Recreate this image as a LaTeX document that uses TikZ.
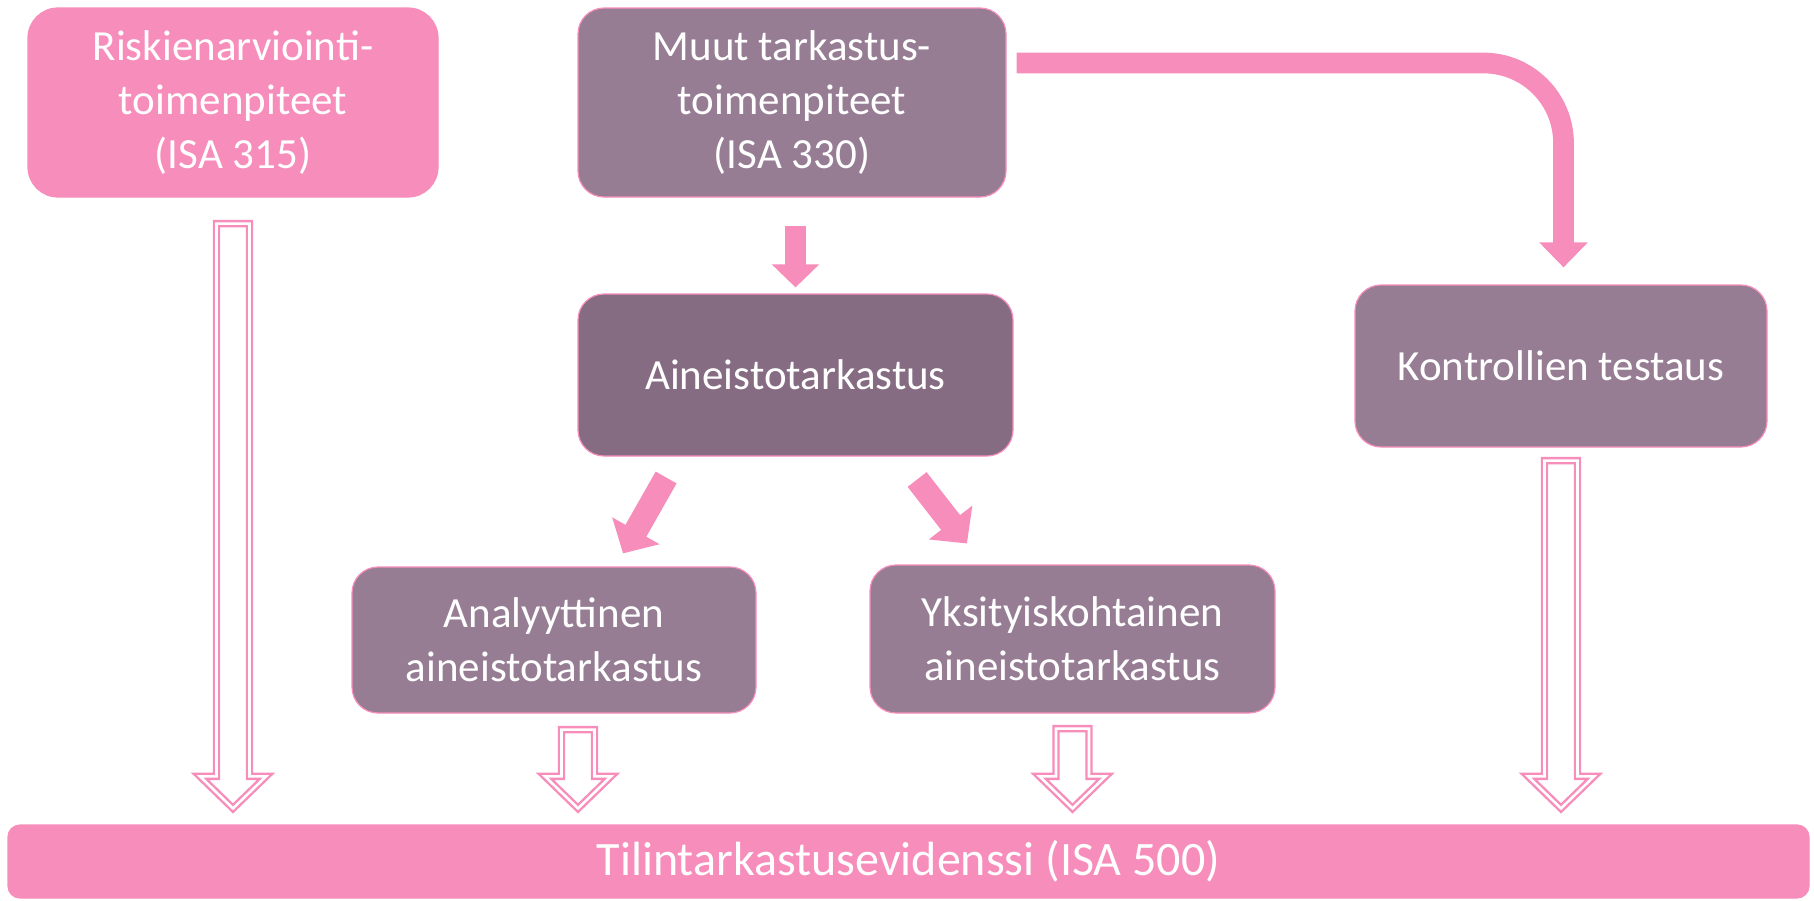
\documentclass[tikz,border=0pt]{standalone}
\usepackage{fontspec}
\setmainfont{Carlito}
\usepackage{xcolor}
\usepackage{tikz}
\usetikzlibrary{arrows.meta,calc}

\definecolor{pinkc}{RGB}{247,141,187}
\definecolor{mauve}{RGB}{150,125,148}
\definecolor{mauvedk}{RGB}{134,108,131}

\begin{document}
\begin{tikzpicture}[x=0.5pt,y=-0.5pt,
box/.style={rounded corners=13pt, draw=pinkc, line width=0.6pt, text=white,
    align=center, inner sep=0pt, font=\fontsize{21.5}{27.2}\selectfont},
pinkbox/.style={box, fill=pinkc, rounded corners=15pt},
mauvebox/.style={box, fill=mauve},
fatarrow/.style={pinkc, line width=10.35pt, -{Triangle[width=23.5pt,length=12.5pt]}},
hollowarrow/.style={draw=pinkc, line width=1.2pt, double=white,
    double distance=1.3pt, fill=white}]
\useasboundingbox (0,0) rectangle (1814,900);

% boxes
\node[pinkbox, minimum width=205pt, minimum height=94.5pt] (risk) at (233,102.5)
  {Riskienarviointi-\\toimenpiteet\\(ISA 315)};
\node[mauvebox, minimum width=214pt, minimum height=94.5pt] (muut) at (792,102.5)
  {Muut tarkastus-\\toimenpiteet\\(ISA 330)};
\node[mauvebox, fill=mauvedk, minimum width=217.5pt, minimum height=81pt] (aineisto) at (795.5,375)
  {Aineistotarkastus};
\node[mauvebox, minimum width=206pt, minimum height=81pt] (kontr) at (1561,366)
  {Kontrollien testaus};
\node[mauvebox, minimum width=202pt, minimum height=73pt] (analyyt) at (554,640)
  {Analyyttinen\\aineistotarkastus};
\node[mauvebox, minimum width=202.5pt, minimum height=74pt] (yksit) at (1072.5,639)
  {Yksityiskohtainen\\aineistotarkastus};
\node[pinkbox, rounded corners=6pt, minimum width=900.5pt, minimum height=36.5pt,
  font=\fontsize{24}{29}\selectfont] (evid) at (908.5,861.5)
  {Tilintarkastusevidenssi (ISA 500)};

% solid arrows
\draw[fatarrow, line width=10.5pt, -{Triangle[width=23pt,length=11.5pt]},
  shorten <=14pt, shorten >=3pt] (muut.south -| aineisto.north) -- (aineisto.north);
\draw[fatarrow, rounded corners=40pt, shorten >=8.5pt]
  ([xshift=5pt,yshift=19.75pt]muut.east) -| ([xshift=1.25pt]kontr.north);
\draw[fatarrow, line width=12pt, -{Triangle[width=26.5pt,length=13pt]},
  shorten <=12pt, shorten >=7.5pt]
  ([xshift=-58.75pt]aineisto.south) -- ([xshift=30.8pt]analyyt.north);
\draw[fatarrow, line width=12pt, -{Triangle[width=26.8pt,length=13.3pt]},
  shorten <=14.5pt, shorten >=13.25pt]
  ([xshift=51.9pt]aineisto.south) -- ([xshift=-44.65pt]yksit.north);

% hollow arrows to the evidence bar
\foreach \src/\dx/\gap in {risk/0/22, analyyt/24/12, yksit/0/11, kontr/0/9}{
  \coordinate (top) at ($(\src.south)+(\dx,\gap+4)$);
  \coordinate (tip) at ($(top |- evid.north)+(0,-16)$);
  \draw[hollowarrow] ($(top)+(-16.5,0)$) -- ($(tip)+(-16.5,-32)$) -- ($(tip)+(-33,-32)$)
    -- (tip) -- ($(tip)+(33,-32)$) -- ($(tip)+(16.5,-32)$) -- ($(top)+(16.5,0)$) -- cycle;
}
\end{tikzpicture}
\end{document}
